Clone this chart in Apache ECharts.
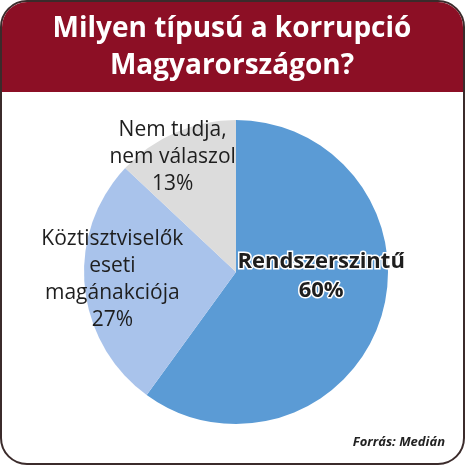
<!DOCTYPE html>
<html><head><meta charset="utf-8">
<script src="https://cdn.jsdelivr.net/npm/echarts@6/dist/echarts.min.js"></script>
<style>html,body{margin:0;padding:0;background:#fff}#c{width:465px;height:465px}</style>
</head><body><div id="c"></div>
<script>
var titleLines = ['Milyen típusú a korrupció', 'Magyarországon?'];
var categories = ['Rendszerszintű', 'Köztisztviselők\neseti\nmagánakciója', 'Nem tudja,\nnem válaszol'];
var values = [60, 27, 13];
var colors = ['#5b9bd5', '#a9c3eb', '#dcdcdc'];
var source = 'Forrás: Medián';

var font = '"Open Sans", Lato, sans-serif';
var chart = echarts.init(document.getElementById('c'));
chart.setOption({
  animation: false,
  graphic: [
    { type: 'rect', shape: { x: 1, y: 1, width: 463, height: 463, r: 26 },
      style: { fill: '#fff', stroke: '#3b2b2b', lineWidth: 2 }, z: -10 },
    { type: 'rect', shape: { x: 2, y: 2, width: 461, height: 90, r: [25, 25, 0, 0] },
      style: { fill: '#8c0f25' }, z: -9 },
    { type: 'text', x: 232, y: 11,
      style: { text: titleLines.join('\n'), fill: '#fff', font: 'bold 28px ' + font, lineHeight: 37, align: 'center' } },
    { type: 'text', right: 20, top: 436,
      style: { text: source, fill: '#222', font: 'italic bold 13px ' + font } }
  ],
  series: [{
    type: 'pie',
    center: [236, 272],
    radius: [0, 152],
    startAngle: 90,
    clockwise: true,
    silent: true,
    labelLine: { show: false },
    data: values.map(function (v, i) {
      var d = { value: v, name: categories[i], itemStyle: { color: colors[i] } };
      if (i === 0) d.label = { position: 'inside', offset: [10, -20],
        formatter: '{b}\n{c}%', fontWeight: 'bold', fontSize: 22, lineHeight: 29,
        textBorderColor: '#fff', textBorderWidth: 3 };
      if (i === 1) d.label = { position: 'inside', offset: [-45, 0],
        formatter: '{b}\n{c}%', fontSize: 21, lineHeight: 27 };
      if (i === 2) d.label = { position: 'inside', offset: [-32, -42],
        formatter: '{b}\n{c}%', fontSize: 21, lineHeight: 27 };
      return d;
    }),
    label: { show: true, color: '#1e1e1e', fontFamily: font, align: 'center' }
  }]
});
</script></body></html>
